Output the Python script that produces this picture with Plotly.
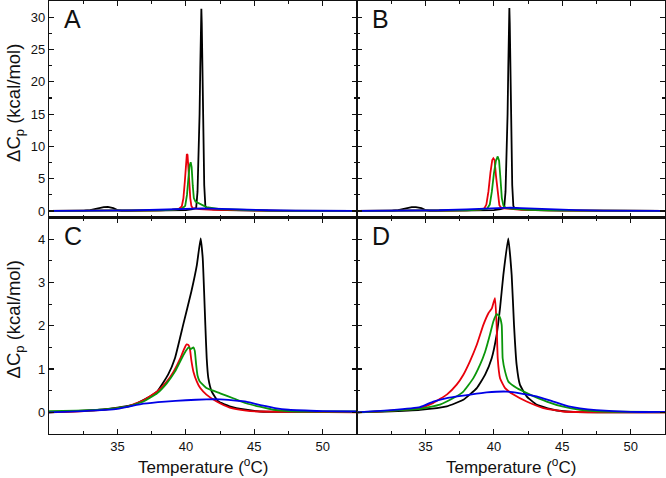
import plotly.graph_objects as go

# ---------------- data (temperature in °C, ΔCp in kcal/mol) ----------------
A_black_T = [30, 32, 32.6, 33.0, 33.5, 34.0, 34.3, 34.7, 35.0, 35.3, 35.7, 37, 39, 40, 40.5, 40.75, 40.85, 40.93, 41.0, 41.05, 41.1, 41.13, 41.16, 41.2, 41.27, 41.34, 41.42, 41.5, 42, 43, 45, 48, 52.5]
A_black_v = [0.02, 0.02, 0.05, 0.15, 0.4, 0.6, 0.63, 0.45, 0.15, 0.03, 0.02, 0.03, 0.08, 0.15, 0.3, 0.45, 3, 8, 15, 22, 29, 31.3, 29, 21, 12, 4, 0.8, 0.45, 0.28, 0.15, 0.05, 0.02, 0.01]
A_red_T = [30, 35, 38, 39, 39.5, 39.7, 39.82, 39.92, 40.0, 40.07, 40.12, 40.18, 40.25, 40.32, 40.4, 40.5, 40.7, 41, 42, 44, 47, 52.5]
A_red_v = [0.02, 0.05, 0.12, 0.2, 0.35, 0.7, 2.0, 4.5, 7.2, 8.8, 8.7, 7.2, 4.5, 2.0, 0.8, 0.45, 0.35, 0.3, 0.2, 0.1, 0.04, 0.02]
A_green_T = [30, 35, 38, 39, 39.7, 39.95, 40.08, 40.18, 40.27, 40.35, 40.42, 40.5, 40.58, 40.7, 40.9, 41.2, 41.5, 42.5, 44, 46, 48, 52.5]
A_green_v = [0.02, 0.05, 0.12, 0.2, 0.35, 0.8, 2.5, 5.0, 7.0, 7.55, 6.8, 4.0, 2.0, 1.45, 1.25, 0.9, 0.6, 0.3, 0.15, 0.06, 0.03, 0.02]
A_blue_T = [30, 33, 36, 38, 39.5, 40.5, 41.2, 42, 43, 44.5, 46, 48, 50, 52.5]
A_blue_v = [0.02, 0.04, 0.1, 0.2, 0.3, 0.4, 0.42, 0.38, 0.3, 0.2, 0.12, 0.06, 0.03, 0.02]

B_black_T = [30, 32, 32.6, 33.0, 33.5, 34.0, 34.3, 34.7, 35.0, 35.3, 35.7, 37, 39, 40, 40.5, 40.75, 40.85, 40.93, 41.0, 41.05, 41.1, 41.13, 41.16, 41.2, 41.27, 41.34, 41.42, 41.5, 42, 43, 45, 48, 52.5]
B_black_v = [0.02, 0.02, 0.05, 0.15, 0.4, 0.6, 0.62, 0.45, 0.15, 0.03, 0.02, 0.03, 0.08, 0.15, 0.3, 0.45, 3, 8, 15, 22, 29, 31.4, 29, 21, 12, 4, 0.8, 0.45, 0.28, 0.15, 0.05, 0.02, 0.01]
B_red_T = [30, 35, 38, 39, 39.3, 39.45, 39.6, 39.75, 39.88, 39.96, 40.05, 40.15, 40.28, 40.4, 40.55, 41, 42, 44, 47, 52.5]
B_red_v = [0.02, 0.05, 0.12, 0.22, 0.4, 1.0, 3.0, 6.0, 7.9, 8.15, 7.9, 5.5, 2.5, 0.9, 0.45, 0.35, 0.2, 0.1, 0.04, 0.02]
B_green_T = [30, 35, 38, 39, 39.5, 39.7, 39.85, 40.0, 40.15, 40.28, 40.38, 40.48, 40.58, 40.7, 40.9, 41.5, 42.5, 44, 47, 52.5]
B_green_v = [0.02, 0.05, 0.12, 0.22, 0.35, 1.0, 3.0, 5.8, 7.8, 8.45, 7.8, 5.0, 2.0, 0.8, 0.45, 0.35, 0.2, 0.1, 0.04, 0.02]
B_blue_T = [30, 33, 36, 38, 39.5, 40.5, 41.2, 42, 43, 44.5, 46, 48, 50, 52.5]
B_blue_v = [0.02, 0.05, 0.12, 0.25, 0.4, 0.5, 0.52, 0.46, 0.36, 0.24, 0.14, 0.07, 0.03, 0.02]

C_black_T = [30, 32, 33.7, 35, 36.2, 37.0, 37.9, 38.7, 39.2, 39.8, 40.4, 40.8, 41.08, 41.23, 41.33, 41.42, 41.52, 41.64, 41.89, 42.37, 43.2, 44.4, 45.4, 48, 52.5]
C_black_v = [0.0, 0.03, 0.06, 0.11, 0.18, 0.3, 0.48, 0.87, 1.25, 2.02, 2.79, 3.4, 4.02, 3.56, 2.79, 2.02, 1.25, 0.79, 0.48, 0.25, 0.14, 0.06, 0.02, 0.01, 0.01]
C_red_T = [30, 32, 33.7, 35, 35.7, 36.9, 37.9, 38.6, 39.1, 39.6, 39.85, 40.05, 40.2, 40.3, 40.4, 40.55, 40.8, 41.05, 41.5, 42.25, 43.2, 44.4, 45.4, 48, 52.5]
C_red_v = [0.0, 0.02, 0.05, 0.1, 0.13, 0.28, 0.48, 0.71, 0.94, 1.25, 1.45, 1.57, 1.55, 1.45, 1.2, 0.94, 0.71, 0.56, 0.41, 0.25, 0.11, 0.04, 0.02, 0.01, 0.0]
C_green_T = [30, 32, 33.7, 35, 35.7, 36.9, 37.9, 38.6, 39.2, 39.7, 40.0, 40.2, 40.35, 40.55, 40.65, 40.75, 40.85, 41.0, 41.5, 42.5, 43.5, 44.4, 45.4, 46.4, 48.3, 50, 52.5]
C_green_v = [0.03, 0.04, 0.06, 0.1, 0.13, 0.25, 0.44, 0.67, 0.94, 1.25, 1.42, 1.5, 1.46, 1.5, 1.42, 1.1, 0.85, 0.72, 0.56, 0.44, 0.32, 0.21, 0.13, 0.06, 0.02, 0.02, 0.02]
C_blue_T = [30, 32.5, 35, 36.9, 38.5, 40, 41.5, 42.5, 44.4, 45, 46.5, 47.5, 50, 52.5]
C_blue_v = [0.0, 0.03, 0.08, 0.2, 0.25, 0.28, 0.3, 0.3, 0.25, 0.2, 0.1, 0.06, 0.03, 0.02]

D_black_T = [30, 32, 34.6, 36.56, 37.77, 38.75, 39.36, 39.84, 40.2, 40.45, 40.69, 41.05, 41.3, 41.47, 41.66, 41.9, 42.39, 43.12, 44.34, 45.8, 48, 52.5]
D_black_v = [0.0, 0.02, 0.06, 0.14, 0.29, 0.56, 0.87, 1.25, 1.79, 2.41, 3.17, 4.02, 3.17, 2.02, 1.1, 0.64, 0.37, 0.18, 0.06, 0.01, 0.0, 0.0]
D_red_T = [30, 32, 34.6, 35.58, 36.56, 37.28, 37.77, 38.25, 38.75, 39.23, 39.6, 39.85, 40.08, 40.2, 40.28, 40.45, 40.82, 41.43, 42.39, 43.61, 45.07, 48, 52.5]
D_red_v = [0.0, 0.03, 0.1, 0.22, 0.41, 0.64, 0.87, 1.18, 1.56, 2.02, 2.29, 2.4, 2.64, 2.02, 1.25, 0.79, 0.56, 0.41, 0.25, 0.1, 0.02, 0.0, 0.0]
D_green_T = [30, 32, 34.6, 36.06, 37.04, 37.77, 38.5, 38.99, 39.36, 39.71, 39.96, 40.2, 40.4, 40.57, 40.64, 40.82, 41.06, 41.67, 42.64, 43.86, 45.07, 46.29, 48, 52.5]
D_green_v = [0.0, 0.03, 0.08, 0.18, 0.33, 0.48, 0.79, 1.1, 1.4, 1.79, 2.1, 2.27, 2.22, 2.02, 1.25, 0.94, 0.71, 0.56, 0.41, 0.25, 0.13, 0.06, 0.02, 0.01]
D_blue_T = [30, 32.5, 34.6, 35.58, 36.56, 38.26, 39.47, 40.93, 41.9, 43.12, 44.34, 45.56, 46.29, 47.5, 50, 52.5]
D_blue_v = [0.0, 0.05, 0.12, 0.25, 0.33, 0.41, 0.46, 0.48, 0.44, 0.37, 0.25, 0.13, 0.09, 0.05, 0.01, 0.01]

panel_letters = ["A", "B", "C", "D"]
x_ticks = [35, 40, 45, 50]
y_ticks_top = [0, 5, 10, 15, 20, 25, 30]
y_ticks_bottom = [0, 1, 2, 3, 4]

# ---------------- figure ----------------
BLACK, RED, GREEN, BLUE = "#000000", "#e8000b", "#0a960a", "#0000e6"
FONT = "Liberation Sans, Arial, Helvetica, sans-serif"
AX = "#111111"

panels = [
    ("x", "y", "linear", [(A_black_T, A_black_v, BLACK), (A_red_T, A_red_v, RED), (A_green_T, A_green_v, GREEN), (A_blue_T, A_blue_v, BLUE)]),
    ("x2", "y2", "linear", [(B_black_T, B_black_v, BLACK), (B_red_T, B_red_v, RED), (B_green_T, B_green_v, GREEN), (B_blue_T, B_blue_v, BLUE)]),
    ("x3", "y3", "spline", [(C_black_T, C_black_v, BLACK), (C_red_T, C_red_v, RED), (C_green_T, C_green_v, GREEN), (C_blue_T, C_blue_v, BLUE)]),
    ("x4", "y4", "spline", [(D_black_T, D_black_v, BLACK), (D_red_T, D_red_v, RED), (D_green_T, D_green_v, GREEN), (D_blue_T, D_blue_v, BLUE)]),
]

fig = go.Figure()
for xa, ya, shape, curves in panels:
    for T, v, col in curves:
        line = dict(color=col, width=1.8, shape=shape)
        if shape == "spline":
            line["smoothing"] = 0.4
        fig.add_trace(go.Scatter(x=T, y=v, xaxis=xa, yaxis=ya, mode="lines",
                                 line=line, showlegend=False, hoverinfo="skip"))

common_axis = dict(showline=True, linecolor=AX, linewidth=1.2, mirror="ticks",
                   ticks="inside", ticklen=5, tickwidth=1.2, tickcolor=AX,
                   showgrid=False, zeroline=False,
                   tickfont=dict(family=FONT, size=13, color=AX))

xdom = {"x": [0, 0.5], "x2": [0.5, 1], "x3": [0, 0.5], "x4": [0.5, 1]}
ydom = {"y": [0.5, 1], "y2": [0.5, 1], "y3": [0, 0.5], "y4": [0, 0.5]}

layout = dict(width=666, height=478, margin=dict(l=49, r=1, t=1, b=44),
              plot_bgcolor="white", paper_bgcolor="white", showlegend=False)

for i, (xa, ya, _, _) in enumerate(panels):
    xn = "xaxis" + ("" if i == 0 else str(i + 1))
    yn = "yaxis" + ("" if i == 0 else str(i + 1))
    top = i < 2
    left = i % 2 == 0
    layout[xn] = dict(common_axis, domain=xdom[xa], anchor=ya, range=[30, 52.5],
                      tickmode="array", tickvals=x_ticks, showticklabels=not top,
                      minor=dict(tickmode="linear", tick0=0, dtick=2.5, ticks="inside",
                                 ticklen=3, tickwidth=1.2, tickcolor=AX))
    if top:
        layout[yn] = dict(common_axis, domain=ydom[ya], anchor=xa, range=[-1, 32.5],
                          tickmode="array", tickvals=y_ticks_top, showticklabels=left,
                          minor=dict(tickmode="linear", tick0=0, dtick=2.5, ticks="inside",
                                     ticklen=3, tickwidth=1.2, tickcolor=AX))
    else:
        layout[yn] = dict(common_axis, domain=ydom[ya], anchor=xa, range=[-0.5, 4.5],
                          tickmode="array", tickvals=y_ticks_bottom, showticklabels=left,
                          minor=dict(tickmode="linear", tick0=0, dtick=0.5, ticks="inside",
                                     ticklen=3, tickwidth=1.2, tickcolor=AX))

fig.update_layout(**layout)

# panel letters
for i, letter in enumerate(panel_letters):
    xa = ["x", "x2", "x3", "x4"][i]
    ya = ["y", "y2", "y3", "y4"][i]
    fig.add_annotation(text=letter, xref=xa + " domain", yref=ya + " domain",
                       x=0.042, y=0.99, xanchor="left", yanchor="top", showarrow=False,
                       font=dict(family=FONT, size=25, color=AX))

# axis titles
ytitle = "ΔC<sub>p</sub> (kcal/mol)"
for ya in ("y", "y3"):
    fig.add_annotation(text=ytitle, xref="paper", yref=ya + " domain", x=-0.055, y=0.53,
                       xanchor="center", yanchor="middle", textangle=-90, showarrow=False,
                       font=dict(family=FONT, size=18.5, color=AX))
for xa in ("x3", "x4"):
    fig.add_annotation(text="Temperature (<sup>o</sup>C)", xref=xa + " domain", yref="paper",
                       x=0.5, y=-0.074, xanchor="center", yanchor="middle", showarrow=False,
                       font=dict(family=FONT, size=17, color=AX))

fig.write_html("out.html", config={"displayModeBar": False, "staticPlot": True},
               post_script="document.body.style.margin='0';document.body.style.overflow='hidden';")
